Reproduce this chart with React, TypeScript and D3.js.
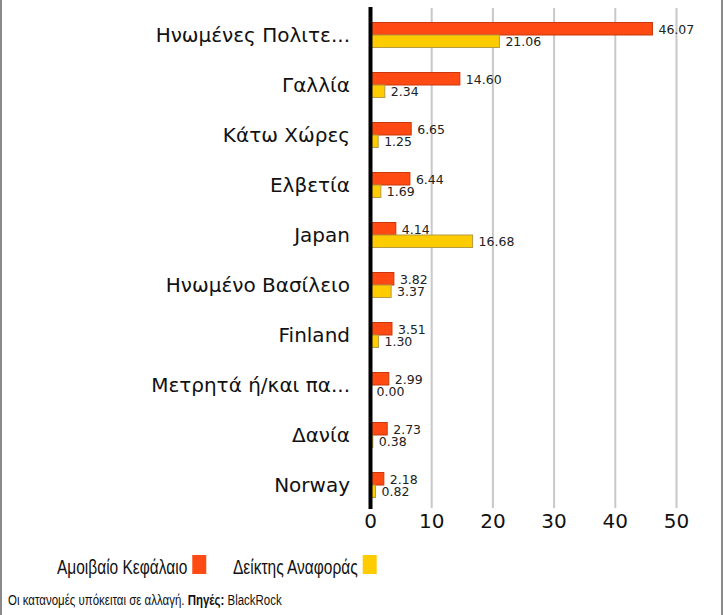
import React, { useEffect, useRef } from 'react';
import * as d3 from 'd3';

const categories = [
  'Ηνωμένες Πολιτε...',
  'Γαλλία',
  'Κάτω Χώρες',
  'Ελβετία',
  'Japan',
  'Ηνωμένο Βασίλειο',
  'Finland',
  'Μετρητά ή/και πα...',
  'Δανία',
  'Norway',
];
const fundValues = [46.07, 14.6, 6.65, 6.44, 4.14, 3.82, 3.51, 2.99, 2.73, 2.18];
const indexValues = [21.06, 2.34, 1.25, 1.69, 16.68, 3.37, 1.3, 0.0, 0.38, 0.82];
const seriesNames = ['Αμοιβαίο Κεφάλαιο', 'Δείκτης Αναφοράς'];
const xTicks = [0, 10, 20, 30, 40, 50];

const W = 724;
const H = 615;
const colors = ['#ff4a14', '#ffcc00'];
const strokes = ['#c8380c', '#b39a45'];

function App() {
  const ref = useRef<any>(null);

  useEffect(() => {
    const svg = d3.select(ref.current);
    svg.selectAll('*').remove();

    const x = d3.scaleLinear().domain([0, 55]).range([370.5, 370.5 + 55 * 6.12]);
    const y = d3.scaleBand<string>().domain(categories).range([10, 510]).paddingInner(0.5).paddingOuter(0.25);
    const sub = d3.scaleBand<number>().domain([0, 1]).range([0, y.bandwidth()]);

    // box sides
    svg.append('line').attr('x1', 1).attr('x2', 1).attr('y1', 0).attr('y2', H).attr('stroke', '#8a8a8a').attr('stroke-width', 2);
    svg.append('line').attr('x1', 722).attr('x2', 722).attr('y1', 0).attr('y2', H).attr('stroke', '#8a8a8a').attr('stroke-width', 2);

    // grid
    svg
      .append('g')
      .selectAll('line')
      .data(xTicks.filter((t) => t > 0))
      .join('line')
      .attr('x1', (d) => x(d))
      .attr('x2', (d) => x(d))
      .attr('y1', 8)
      .attr('y2', 508)
      .attr('stroke', '#c8c8c8')
      .attr('stroke-width', 2);

    // tick labels
    svg
      .append('g')
      .selectAll('text')
      .data(xTicks)
      .join('text')
      .attr('x', (d) => x(d))
      .attr('y', 528)
      .attr('text-anchor', 'middle')
      .attr('font-family', 'DejaVu Sans')
      .attr('font-size', 20)
      .attr('fill', '#111')
      .text((d) => d);

    // category labels
    svg
      .append('g')
      .selectAll('text')
      .data(categories)
      .join('text')
      .attr('x', 350)
      .attr('y', (d) => (y(d) as number) + y.bandwidth() / 2)
      .attr('dy', '0.35em')
      .attr('text-anchor', 'end')
      .attr('font-family', 'DejaVu Sans')
      .attr('font-size', 20)
      .attr('fill', '#111')
      .text((d) => d);

    const series = [fundValues, indexValues];
    series.forEach((vals, s) => {
      const g = svg.append('g');
      g.selectAll('rect')
        .data(vals)
        .join('rect')
        .attr('x', x(0))
        .attr('y', (d, i) => (y(categories[i]) as number) + (sub(s) as number))
        .attr('width', (d) => x(d) - x(0))
        .attr('height', sub.bandwidth())
        .attr('fill', colors[s])
        .attr('stroke', strokes[s])
        .attr('stroke-width', 1);
      g.selectAll('text')
        .data(vals)
        .join('text')
        .attr('x', (d) => x(d) + 6)
        .attr('y', (d, i) => (y(categories[i]) as number) + (sub(s) as number) + sub.bandwidth() / 2 + 0.5)
        .attr('dy', '0.35em')
        .attr('font-family', 'DejaVu Sans')
        .attr('font-size', 12.5)
        .attr('fill', '#222')
        .text((d) => d.toFixed(2));
    });

    // zero axis
    svg.append('line').attr('x1', x(0)).attr('x2', x(0)).attr('y1', 7).attr('y2', 509).attr('stroke', '#000').attr('stroke-width', 4);

    // legend (original font is a condensed Arial, squeeze horizontally)
    const legendX = [57, 233];
    const squeeze = 0.775;
    seriesNames.forEach((name, s) => {
      const g = svg.append('g').attr('transform', `translate(${legendX[s]},574) scale(${squeeze},1)`);
      const t = g
        .append('text')
        .attr('x', 0)
        .attr('y', 0)
        .attr('font-family', "'Liberation Sans', Arial")
        .attr('font-size', 20)
        .attr('fill', '#111')
        .text(name);
      const w = (t.node() as SVGTextElement).getComputedTextLength() * squeeze;
      svg
        .append('rect')
        .attr('x', legendX[s] + w + 5)
        .attr('y', 555)
        .attr('width', 14)
        .attr('height', 19)
        .attr('fill', colors[s]);
    });

    // footer
    const foot = svg
      .append('g')
      .attr('transform', 'translate(8,605) scale(0.82,1)')
      .append('text')
      .attr('font-family', "'Liberation Sans', Arial")
      .attr('font-size', 14)
      .attr('fill', '#111');
    foot.append('tspan').text('Οι κατανομές υπόκειται σε αλλαγή. ');
    foot.append('tspan').attr('font-weight', 'bold').text('Πηγές:');
    foot.append('tspan').text(' BlackRock');
  });

  return (
    <div style={{ position: 'absolute', left: 0, top: 0 }}>
      <svg ref={ref} width={W} height={H} style={{ display: 'block', background: '#fff' }}></svg>
    </div>
  );
}

export default App;
